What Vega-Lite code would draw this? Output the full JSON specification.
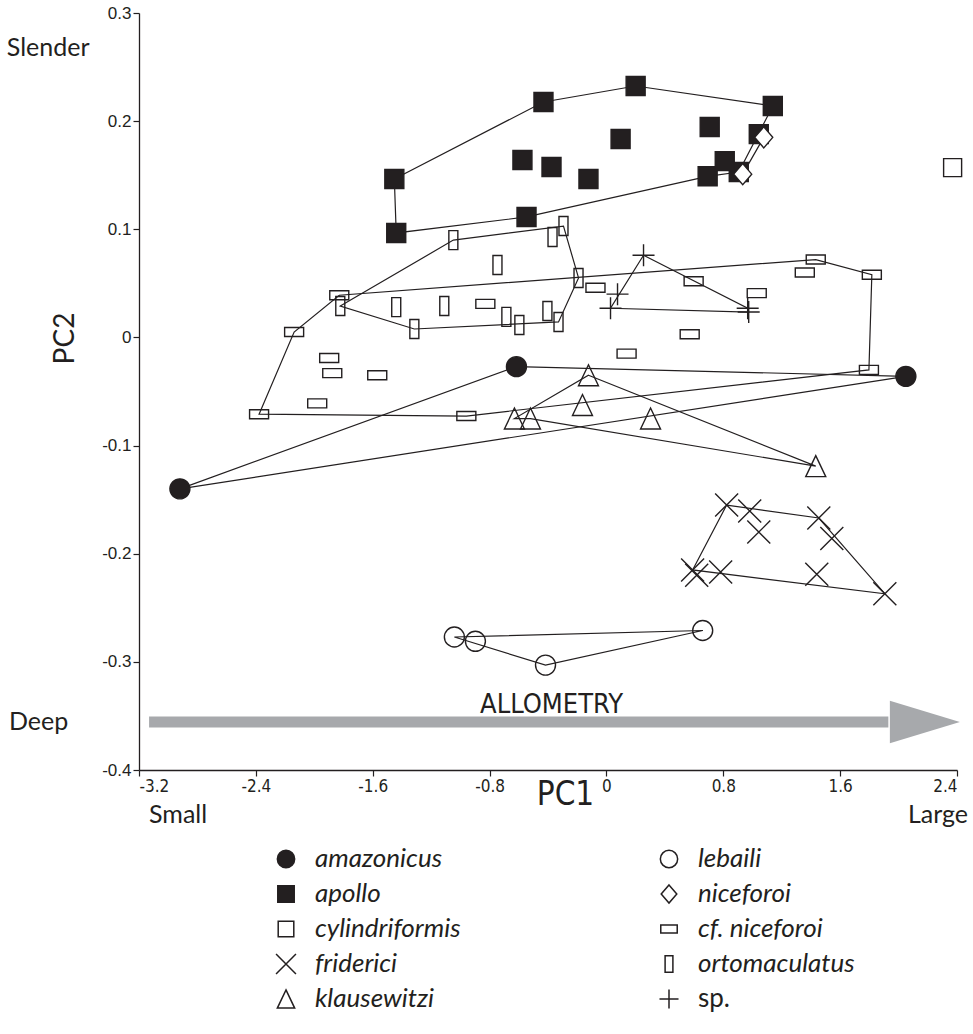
{
  "$schema": "https://vega.github.io/schema/vega-lite/v6.json",
  "width": 818,
  "height": 757,
  "autosize": {"type": "none"},
  "padding": {"left": 139, "top": 13, "right": 16, "bottom": 264},
  "background": "white",
  "config": {"view": {"stroke": null}},
  "datasets": {
    "pts": [
      {"sp": "amazonicus", "x": -2.92, "y": -0.140, "h": 1},
      {"sp": "amazonicus", "x": -0.616, "y": -0.027, "h": 2},
      {"sp": "amazonicus", "x": 2.05, "y": -0.036, "h": 3},
      {"sp": "apollo", "x": -1.452, "y": 0.1465, "h": 1},
      {"sp": "apollo", "x": -0.431, "y": 0.2177, "h": 2},
      {"sp": "apollo", "x": 0.200, "y": 0.2325, "h": 3},
      {"sp": "apollo", "x": 1.139, "y": 0.214, "h": 4},
      {"sp": "apollo", "x": 0.906, "y": 0.153, "h": 5},
      {"sp": "apollo", "x": 0.693, "y": 0.149, "h": 6},
      {"sp": "apollo", "x": -0.547, "y": 0.1114, "h": 7},
      {"sp": "apollo", "x": -1.439, "y": 0.0966, "h": 8},
      {"sp": "apollo", "x": -0.575, "y": 0.164, "h": null},
      {"sp": "apollo", "x": -0.376, "y": 0.1576, "h": null},
      {"sp": "apollo", "x": 0.097, "y": 0.1835, "h": null},
      {"sp": "apollo", "x": -0.123, "y": 0.1465, "h": null},
      {"sp": "apollo", "x": 0.707, "y": 0.1946, "h": null},
      {"sp": "apollo", "x": 1.043, "y": 0.188, "h": null},
      {"sp": "apollo", "x": 0.81, "y": 0.163, "h": null},
      {"sp": "cylindriformis", "x": 2.37, "y": 0.157, "h": null},
      {"sp": "friderici", "x": 0.823, "y": -0.155, "h": 1},
      {"sp": "friderici", "x": 1.454, "y": -0.167, "h": 2},
      {"sp": "friderici", "x": 1.906, "y": -0.237, "h": 3},
      {"sp": "friderici", "x": 0.590, "y": -0.215, "h": 4},
      {"sp": "friderici", "x": 0.981, "y": -0.1605, "h": null},
      {"sp": "friderici", "x": 1.043, "y": -0.180, "h": null},
      {"sp": "friderici", "x": 1.543, "y": -0.186, "h": null},
      {"sp": "friderici", "x": 0.618, "y": -0.220, "h": null},
      {"sp": "friderici", "x": 0.782, "y": -0.217, "h": null},
      {"sp": "friderici", "x": 1.440, "y": -0.219, "h": null},
      {"sp": "klausewitzi", "x": -0.123, "y": -0.035, "h": 1},
      {"sp": "klausewitzi", "x": 1.433, "y": -0.119, "h": 2},
      {"sp": "klausewitzi", "x": -0.520, "y": -0.075, "h": 3},
      {"sp": "klausewitzi", "x": -0.630, "y": -0.075, "h": 4},
      {"sp": "klausewitzi", "x": -0.164, "y": -0.0625, "h": null},
      {"sp": "klausewitzi", "x": 0.302, "y": -0.075, "h": null},
      {"sp": "lebaili", "x": -1.041, "y": -0.277, "h": 1},
      {"sp": "lebaili", "x": 0.659, "y": -0.271, "h": 2},
      {"sp": "lebaili", "x": -0.417, "y": -0.303, "h": 3},
      {"sp": "lebaili", "x": -0.897, "y": -0.281, "h": null},
      {"sp": "niceforoi", "x": 1.077, "y": 0.185, "h": 1},
      {"sp": "niceforoi", "x": 0.933, "y": 0.151, "h": 2},
      {"sp": "cf. niceforoi", "x": -2.378, "y": -0.071, "h": 1},
      {"sp": "cf. niceforoi", "x": -2.138, "y": 0.005, "h": 2},
      {"sp": "cf. niceforoi", "x": -1.829, "y": 0.039, "h": 3},
      {"sp": "cf. niceforoi", "x": 1.433, "y": 0.072, "h": 4},
      {"sp": "cf. niceforoi", "x": 1.817, "y": 0.058, "h": 5},
      {"sp": "cf. niceforoi", "x": 1.797, "y": -0.030, "h": 6},
      {"sp": "cf. niceforoi", "x": -0.959, "y": -0.0727, "h": 7},
      {"sp": "cf. niceforoi", "x": -1.898, "y": -0.019, "h": null},
      {"sp": "cf. niceforoi", "x": -1.877, "y": -0.033, "h": null},
      {"sp": "cf. niceforoi", "x": -1.569, "y": -0.035, "h": null},
      {"sp": "cf. niceforoi", "x": -1.980, "y": -0.061, "h": null},
      {"sp": "cf. niceforoi", "x": -0.829, "y": 0.031, "h": null},
      {"sp": "cf. niceforoi", "x": -0.075, "y": 0.046, "h": null},
      {"sp": "cf. niceforoi", "x": 0.597, "y": 0.052, "h": null},
      {"sp": "cf. niceforoi", "x": 1.029, "y": 0.041, "h": null},
      {"sp": "cf. niceforoi", "x": 1.358, "y": 0.060, "h": null},
      {"sp": "cf. niceforoi", "x": 0.570, "y": 0.003, "h": null},
      {"sp": "cf. niceforoi", "x": 0.138, "y": -0.015, "h": null},
      {"sp": "ortomaculatus", "x": -1.822, "y": 0.029, "h": 1},
      {"sp": "ortomaculatus", "x": -1.048, "y": 0.090, "h": 2},
      {"sp": "ortomaculatus", "x": -0.294, "y": 0.103, "h": 3},
      {"sp": "ortomaculatus", "x": -0.191, "y": 0.055, "h": 4},
      {"sp": "ortomaculatus", "x": -0.328, "y": 0.0143, "h": 5},
      {"sp": "ortomaculatus", "x": -1.315, "y": 0.0078, "h": 6},
      {"sp": "ortomaculatus", "x": -1.439, "y": 0.028, "h": null},
      {"sp": "ortomaculatus", "x": -1.110, "y": 0.029, "h": null},
      {"sp": "ortomaculatus", "x": -0.369, "y": 0.0929, "h": null},
      {"sp": "ortomaculatus", "x": -0.746, "y": 0.067, "h": null},
      {"sp": "ortomaculatus", "x": -0.685, "y": 0.019, "h": null},
      {"sp": "ortomaculatus", "x": -0.596, "y": 0.0115, "h": null},
      {"sp": "ortomaculatus", "x": -0.404, "y": 0.0244, "h": null},
      {"sp": "sp.", "x": 0.254, "y": 0.076, "h": 1},
      {"sp": "sp.", "x": 0.967, "y": 0.027, "h": 2},
      {"sp": "sp.", "x": 0.974, "y": 0.0235, "h": 3},
      {"sp": "sp.", "x": 0.028, "y": 0.027, "h": 4},
      {"sp": "sp.", "x": 0.076, "y": 0.040, "h": null}
    ],
    "shaft": [{"x": -3.131, "x2": 1.93, "y": -0.3556}],
    "head": [{"x": 2.18, "y": -0.3556}],
    "notes": [
      {"label": "Slender", "x": -4.105, "y": 0.2680},
      {"label": "Deep", "x": -4.09, "y": -0.356},
      {"label": "Small", "x": -3.131, "y": -0.442},
      {"label": "Large", "x": 2.475, "y": -0.442},
      {"label": "ALLOMETRY", "x": -0.376, "y": -0.340}
    ]
  },
  "encoding": {
    "x": {
      "field": "x", "type": "quantitative",
      "scale": {"domain": [-3.2, 2.4], "nice": false, "zero": false},
      "axis": {
        "values": [-3.2, -2.4, -1.6, -0.8, 0, 0.8, 1.6, 2.4],
        "labelExpr": "datum.value == 0 ? '0' : (datum.value < 0 ? '-' : '') + format(abs(datum.value), '.1f')",
        "grid": false,
        "domainColor": "#231f20", "domainWidth": 1.3,
        "tickColor": "#231f20", "tickWidth": 1.2, "tickSize": 6,
        "labelFont": "Liberation Sans Narrow, DejaVu Sans Condensed, sans-serif",
        "labelFontSize": 17, "labelColor": "#231f20", "labelPadding": 2,
        "title": "PC1",
        "titleFont": "Liberation Sans Narrow, DejaVu Sans Condensed, sans-serif",
        "titleFontSize": 33, "titleFontWeight": "normal", "titleColor": "#231f20",
        "titleX": 426, "titleY": 8, "titleBaseline": "top"
      }
    },
    "y": {
      "field": "y", "type": "quantitative",
      "scale": {"domain": [-0.4, 0.3], "nice": false, "zero": false},
      "axis": {
        "values": [-0.4, -0.3, -0.2, -0.1, 0, 0.1, 0.2, 0.3],
        "labelExpr": "datum.value == 0 ? '0' : (datum.value < 0 ? '-' : '') + format(abs(datum.value), '.1f')",
        "grid": false,
        "domainColor": "#231f20", "domainWidth": 1.3,
        "tickColor": "#231f20", "tickWidth": 1.2, "tickSize": 6,
        "labelFont": "Liberation Sans", "labelFontSize": 17, "labelColor": "#231f20", "labelPadding": 2,
        "title": "PC2",
        "titleFont": "Lato", "titleFontSize": 28, "titleFontWeight": "normal", "titleColor": "#231f20",
        "titleX": -60, "titleY": 325, "titleAngle": -90, "titleAlign": "center", "titleBaseline": "bottom"
      }
    }
  },
  "layer": [
    {
      "data": {"name": "shaft"},
      "mark": {"type": "rule", "color": "#a7a9ac", "strokeWidth": 11, "strokeCap": "butt"},
      "encoding": {"x2": {"field": "x2"}}
    },
    {
      "data": {"name": "head"},
      "mark": {"type": "point", "shape": "M-1,-0.61L1,0L-1,0.61Z", "size": 4900, "filled": true, "color": "#a7a9ac", "opacity": 1, "strokeWidth": 0}
    },
    {
      "data": {"name": "notes"},
      "transform": [{"filter": "datum.label == 'Slender' || datum.label == 'Deep' || datum.label == 'Small'"}],
      "mark": {"type": "text", "align": "left", "baseline": "middle", "font": "Lato", "fontSize": 25, "color": "#231f20"},
      "encoding": {"text": {"field": "label"}}
    },
    {
      "data": {"name": "notes"},
      "transform": [{"filter": "datum.label == 'Large'"}],
      "mark": {"type": "text", "align": "right", "baseline": "middle", "font": "Lato", "fontSize": 25, "color": "#231f20"},
      "encoding": {"text": {"field": "label"}}
    },
    {
      "data": {"name": "notes"},
      "transform": [{"filter": "datum.label == 'ALLOMETRY'"}],
      "mark": {"type": "text", "align": "center", "baseline": "middle", "font": "Liberation Sans Narrow, DejaVu Sans Condensed, sans-serif", "fontSize": 27, "color": "#231f20"},
      "encoding": {"text": {"field": "label"}}
    },
    {
      "data": {"name": "pts"},
      "transform": [{"filter": "datum.h != null"}],
      "mark": {"type": "line", "interpolate": "linear-closed", "color": "#231f20", "strokeWidth": 1.2},
      "encoding": {
        "detail": {"field": "sp", "type": "nominal"},
        "order": {"field": "h", "type": "quantitative"}
      }
    },
    {
      "data": {"name": "pts"},
      "mark": {"type": "point", "filled": true, "size": 400, "stroke": "#231f20", "strokeWidth": 1.4, "opacity": 1},
      "encoding": {
        "shape": {
          "field": "sp", "type": "nominal",
          "scale": {
            "domain": ["amazonicus", "apollo", "cylindriformis", "friderici", "klausewitzi", "lebaili", "niceforoi", "cf. niceforoi", "ortomaculatus", "sp."],
            "range": [
              "circle",
              "M-0.95,-0.95L0.95,-0.95L0.95,0.95L-0.95,0.95Z",
              "M-0.9,-0.9L0.9,-0.9L0.9,0.9L-0.9,0.9Z",
              "M-1.15,-1.15L1.15,1.15M1.15,-1.15L-1.15,1.15",
              "M0,-1.05L1,1.05L-1,1.05Z",
              "circle",
              "M0,-1.05L0.9,0L0,1.05L-0.9,0Z",
              "M-0.95,-0.45L0.95,-0.45L0.95,0.45L-0.95,0.45Z",
              "M-0.45,-0.95L0.45,-0.95L0.45,0.95L-0.45,0.95Z",
              "M-1.1,0L1.1,0M0,-1.1L0,1.1"
            ]
          },
          "legend": {
            "orient": "none", "legendX": 134, "legendY": 833, "columns": 2, "title": null,
            "padding": 0, "gridAlign": "all", "columnPadding": 184, "rowPadding": 9,
            "symbolSize": 300,
            "labelFont": "Lato", "labelFontSize": 26, "labelColor": "#231f20",
            "labelFontStyle": {"expr": "datum.value === 'sp.' ? 'normal' : 'italic'"},
            "labelOffset": 16, "labelLimit": 400,
            "encode": {
              "symbols": {"update": {
                "stroke": {"value": "#231f20"},
                "strokeWidth": {"value": 1.2},
                "fill": {"signal": "datum.value === 'amazonicus' || datum.value === 'apollo' ? '#231f20' : (datum.value === 'niceforoi' ? '#ffffff' : 'transparent')"}
              }}
            }
          }
        },
        "fill": {
          "field": "sp", "type": "nominal",
          "scale": {
            "domain": ["amazonicus", "apollo", "cylindriformis", "friderici", "klausewitzi", "lebaili", "niceforoi", "cf. niceforoi", "ortomaculatus", "sp."],
            "range": ["#231f20", "#231f20", "transparent", "transparent", "transparent", "transparent", "#ffffff", "transparent", "transparent", "transparent"]
          },
          "legend": null
        }
      }
    }
  ]
}
